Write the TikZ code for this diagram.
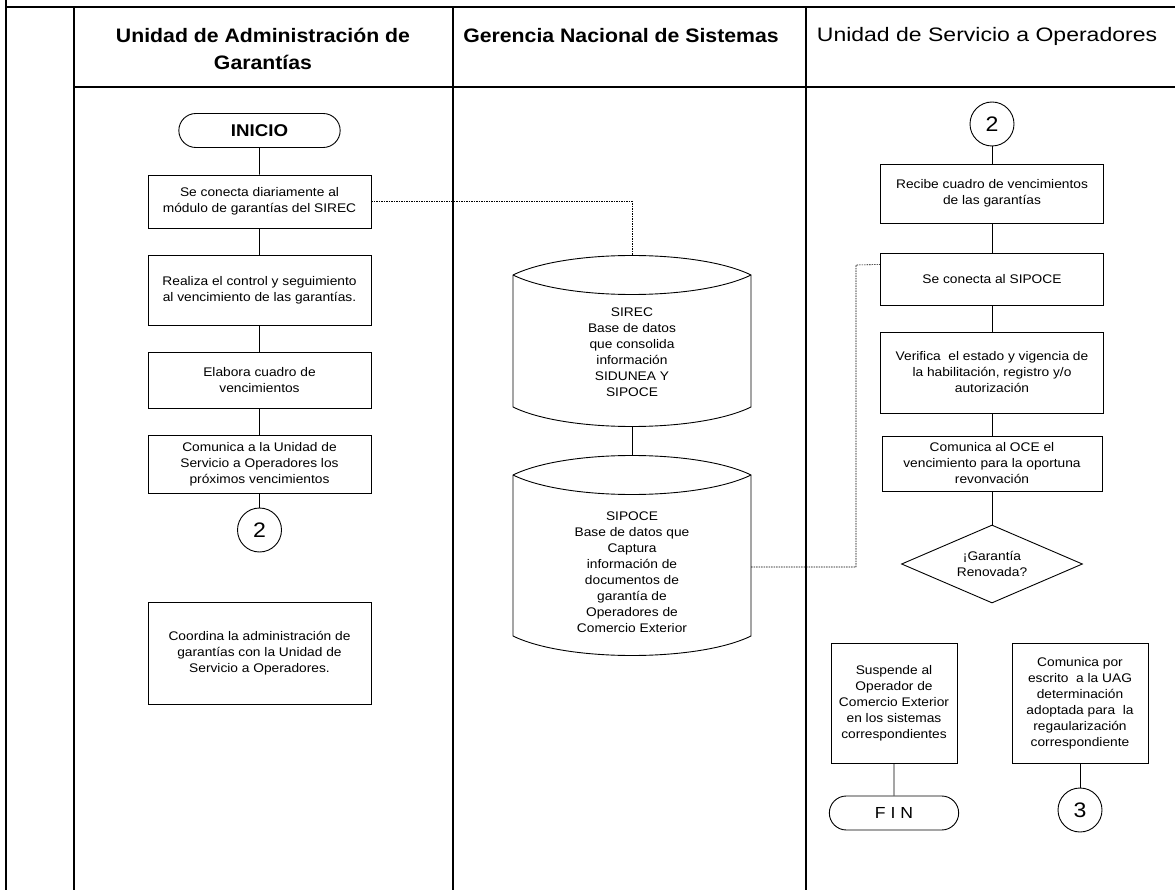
\documentclass[tikz,border=0pt]{standalone}
\usepackage{fontspec}
\setmainfont{Liberation Sans}[FakeStretch=1.1]
\newfontfamily\headfont{Liberation Sans}[FakeStretch=1.18]
\newfontfamily\headboldfont{Liberation Sans Bold}[FakeStretch=1.09]
\usetikzlibrary{shapes.geometric,shapes.misc,calc}
\newcommand\stepfont{\fontsize{12.5}{16}\selectfont}
\begin{document}
\begin{tikzpicture}[x=1pt,y=1pt,
  frame/.style={line width=1.3pt},
  lane/.style={font=\headfont\fontsize{19.5}{27}\selectfont, align=center},
  boldlane/.style={font=\headboldfont\fontsize{19.5}{27}\selectfont, align=center},
  stepbox/.style={draw, line width=0.9pt, minimum width=223pt, minimum height=#1,
    align=center, font=\stepfont, inner sep=2pt},
  terminal/.style={rounded rectangle, draw, line width=0.9pt, minimum height=34pt},
  pageref/.style={circle, draw, line width=0.9pt, minimum size=44pt, inner sep=0pt,
    font=\fontsize{21}{21}\selectfont},
  decision/.style={diamond, draw, line width=0.9pt, aspect=2.32, minimum width=181pt,
    minimum height=78pt, inner sep=0pt, align=center, font=\stepfont},
  dbline/.style={line width=0.9pt},
  dbtext/.style={align=center, font=\stepfont, inner sep=0pt},
  link/.style={line width=0.8pt},
  dataflow/.style={line width=0.6pt, dash pattern=on 1.5pt off 1pt}]

\useasboundingbox (0,0) rectangle (1175,-890);
\fill[white] (0,0) rectangle (1175,-890);

% swimlane frame
\draw[frame] (6,0) -- (6,-890);
\draw[frame] (6,-7) -- (1175,-7);
\draw[frame] (74,-7) -- (74,-890);
\draw[frame] (453,-7) -- (453,-890);
\draw[frame] (806,-7) -- (806,-890);
\draw[frame] (74,-87) -- (1175,-87);

% lane titles
\node[boldlane] (hUAG) at (263,-48.5) {Unidad de Administración de\\Garantías};
\node[boldlane] (hGNS) at (621,-36) {Gerencia Nacional de Sistemas};
\node[lane] (hUSO) at (987,-36) {Unidad de Servicio a Operadores};

% Unidad de Administración de Garantías
\node[terminal, minimum width=168pt, font=\bfseries\fontsize{17}{17}\selectfont] (inicio) at (259.5,-130.5) {INICIO};
\node[stepbox=53pt] (b1) at (259.5,-201.5) {Se conecta diariamente al\\módulo de garantías del SIREC};
\node[stepbox=70pt] (b2) at (259.5,-290) {Realiza el control y seguimiento\\al vencimiento de las garantías.};
\node[stepbox=56pt] (b3) at (259.5,-380) {Elabora cuadro de\\vencimientos};
\node[stepbox=58pt] (b4) at (259.5,-464) {Comunica a la Unidad de\\Servicio a Operadores los\\próximos vencimientos};
\node[pageref] (c2a) at (259.5,-530) {2};
\node[stepbox=102pt] (b5) at (259.5,-653) {Coordina la administración de\\garantías con la Unidad de\\Servicio a Operadores.};

% Gerencia Nacional de Sistemas: databases
\draw[dbline] (513,-275) .. controls (566,-249) and (698,-249) .. (751,-275)
  -- (751,-407) .. controls (698,-433) and (566,-433) .. (513,-407) -- cycle;
\draw[dbline] (513,-275) .. controls (566,-301) and (698,-301) .. (751,-275);
\coordinate (sirecTop) at (632,-255);
\coordinate (sirecBot) at (632,-427);
\node[dbtext] (sirec) at (632,-352) {SIREC\\Base de datos\\que consolida\\información\\SIDUNEA Y\\SIPOCE};

\draw[dbline] (513,-475) .. controls (566,-449) and (698,-449) .. (751,-475)
  -- (751,-636) .. controls (698,-662) and (566,-662) .. (513,-636) -- cycle;
\draw[dbline] (513,-475) .. controls (566,-501) and (698,-501) .. (751,-475);
\coordinate (sipoceTop) at (632,-455);
\coordinate (sipoceE) at (751,-567);
\node[dbtext] (sipoce) at (632,-572) {SIPOCE\\Base de datos que\\Captura\\información de\\documentos de\\garantía de\\Operadores de\\Comercio Exterior};

% Unidad de Servicio a Operadores
\node[pageref] (c2b) at (992,-124) {2};
\node[stepbox=59pt] (r1) at (992,-193.5) {Recibe cuadro de vencimientos\\de las garantías};
\node[stepbox=52pt] (r2) at (992,-279) {Se conecta al SIPOCE};
\node[stepbox=81pt] (r3) at (992,-372.5) {Verifica\ \ el estado y vigencia de\\la habilitación, registro y/o\\autorización};
\node[stepbox=55pt, minimum width=220pt] (r4) at (992,-463.5) {Comunica al OCE el\\vencimiento para la oportuna\\revonvación};
\node[decision] (dec) at (992,-564) {¡Garantía\\Renovada?};
\node[stepbox=120pt, minimum width=126pt] (r5) at (894,-703) {Suspende al\\Operador de\\Comercio Exterior\\en los sistemas\\correspondientes};
\node[terminal, minimum width=136pt, font=\fontsize{16}{16}\selectfont] (fin) at (894,-813) {F I N};
\node[stepbox=120pt, minimum width=136pt] (r6) at (1080,-703) {Comunica por\\escrito\ \ a la UAG\\determinación\\adoptada para\ \ la\\regaularización\\correspondiente};
\node[pageref] (c3) at (1080,-810) {3};

% sequence flow
\draw[link] (inicio) -- (b1);
\draw[link] (b1) -- (b2);
\draw[link] (b2) -- (b3);
\draw[link] (b3) -- (b4);
\draw[link] (b4) -- (c2a);
\draw[link] (sirecBot) -- (sipoceTop);
\draw[link] (c2b) -- (r1);
\draw[link] (r1) -- (r2);
\draw[link] (r2) -- (r3);
\draw[link] (r3) -- (r4);
\draw[link] (r4) -- (dec);
\draw[link] (r5) -- (fin);
\draw[link] (r6) -- (c3);

% system access
\draw[dataflow] (b1.east) -| (sirecTop);
\draw[dataflow] (sipoceE) -| (856,-265) -- ($(r2.north west)+(0,-12)$);
\end{tikzpicture}
\end{document}
